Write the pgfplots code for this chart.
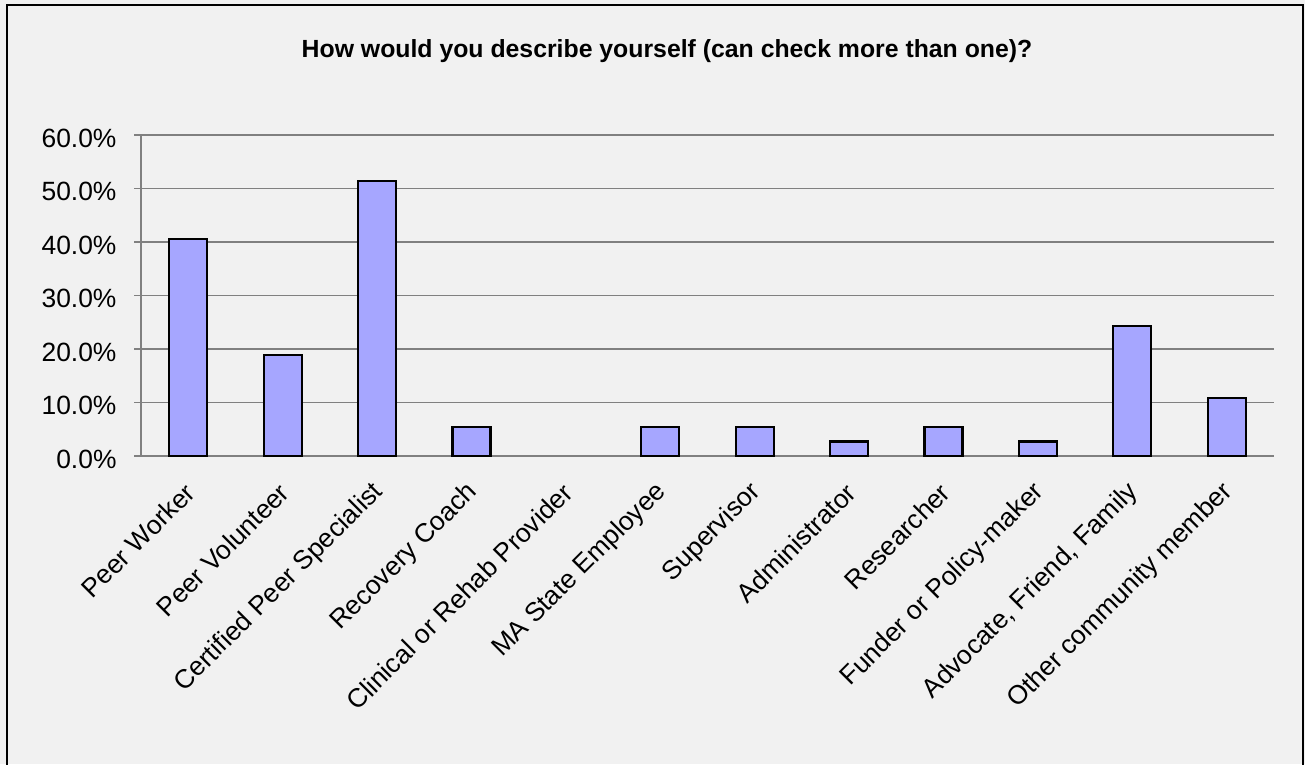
\documentclass[border=0pt]{standalone}
\usepackage{pgfplots}
\pgfplotsset{compat=1.18}
\usepackage{fontspec}
\setmainfont{Liberation Sans}
\definecolor{bg}{HTML}{F1F1F1}
\definecolor{barc}{HTML}{A6A6FF}
\definecolor{gridc}{HTML}{808080}
\begin{document}
\begin{tikzpicture}[x=1bp,y=1bp]
\useasboundingbox (0,0) rectangle (1305,764);
\fill[bg] (0,0) rectangle (1305,764);
\draw[black, line width=1.2bp] (7,-5) rectangle (1303,759);
\node[font=\fontsize{24.9}{28}\selectfont\bfseries] at (667,713) {How would you describe yourself (can check more than one)?};
\begin{axis}[
  at={(141bp,308bp)}, anchor=south west,
  scale only axis, width=1133bp, height=321bp,
  xmin=-0.5, xmax=11.5, ymin=0, ymax=60,
  axis lines*=left,
  axis line style={draw=gridc, line width=1.3bp, -},
  ymajorgrids, grid style={draw=gridc, line width=1.3bp},
  ytick={0,10,...,60},
  yticklabel={\pgfmathprintnumber[fixed,fixed zerofill,precision=1]{\tick}\%},
  /pgf/number format/assume math mode=true,
  tick align=outside,
  major tick length=7bp,
  tick style={draw=gridc, line width=1.3bp},
  xtick={0,...,11},
  x tick style={draw=none},
  xticklabels={Peer Worker,Peer Volunteer,Certified Peer Specialist,Recovery Coach,Clinical or Rehab Provider,MA State Employee,Supervisor,Administrator,Researcher,Funder or Policy-maker,{Advocate, Friend, Family},Other community member},
  tick label style={font=\fontsize{26.5}{30}\selectfont},
  x tick label style={xshift=2bp, yshift=-25bp, rotate=45, anchor=east, inner sep=0pt},
  y tick label style={xshift=-14bp, yshift=-3bp},
  extra x ticks={-0.5,0.5,...,11.5},
  extra x tick labels={},
  extra x tick style={grid=none, tick style={draw=gridc, line width=1.3bp}},
  ybar, bar width=38bp,
  clip=false,
]
% Clinical or Rehab Provider = 0.0% (no visible bar)
\addplot[fill=barc, draw=black, line width=2.2bp] coordinates {
(0,40.5) (1,18.9) (2,51.4) (3,5.4) (5,5.4) (6,5.4) (7,2.7) (8,5.4) (9,2.7) (10,24.3) (11,10.8)};
\end{axis}
\end{tikzpicture}
\end{document}
